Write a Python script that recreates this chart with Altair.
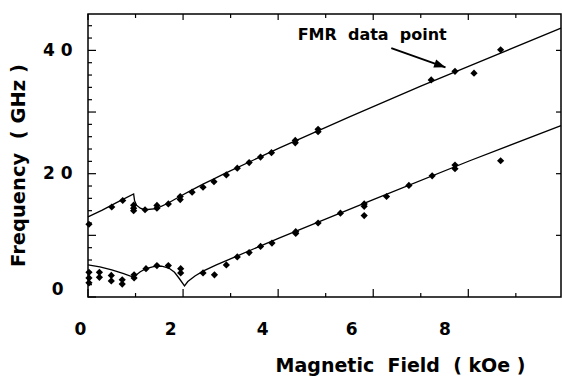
import altair as alt
import pandas as pd

# ---- data ----
upper_pt_H = [0.02, 0.5, 0.73, 0.96, 0.96, 0.96, 1.2, 1.45, 1.45, 1.69, 1.94, 1.94, 2.19, 2.42,
              2.65, 2.91, 3.14, 3.39, 3.63, 3.86, 4.36, 4.36, 4.84, 4.84, 7.22, 7.72, 8.12, 8.68]
upper_pt_F = [11.8, 14.6, 15.65, 14.9, 14.4, 14.0, 14.15, 14.85, 14.4, 15.1, 16.3, 15.8, 17.0, 17.8,
              18.7, 19.8, 20.9, 21.8, 22.7, 23.4, 25.0, 25.4, 26.8, 27.2, 35.2, 36.6, 36.3, 40.1]

lower_pt_H = [0.02, 0.02, 0.02, 0.24, 0.24, 0.49, 0.49, 0.72, 0.72, 0.97, 0.97, 1.22, 1.45, 1.69,
              1.95, 1.95, 2.42, 2.66, 2.91, 3.14, 3.39, 3.63, 3.87, 4.37, 4.37, 4.84, 5.31,
              5.81, 5.81, 5.81, 6.28, 6.75, 7.24, 7.72, 7.72, 8.68]
lower_pt_F = [4.0, 3.1, 2.3, 4.0, 3.2, 3.5, 2.6, 2.8, 2.1, 3.6, 3.1, 4.6, 5.1, 5.1,
              4.6, 3.9, 3.9, 3.6, 5.2, 6.5, 7.2, 8.2, 8.75, 10.6, 10.3, 12.0, 13.6,
              15.1, 14.7, 13.2, 16.3, 18.1, 19.65, 21.4, 20.8, 22.1]

upper_line_H = [0, 0.3, 0.6, 0.96, 0.98, 1.02, 1.1, 1.2, 1.44, 1.68, 1.93, 2.17, 2.42, 2.66,
                2.87, 4.03, 5.5, 7.0, 8.03, 9.95]
upper_line_F = [13.0, 14.1, 15.3, 16.7, 15.6, 14.9, 14.4, 14.15, 14.35, 15.2, 16.3, 17.3, 18.3, 19.2,
                20.0, 24.2, 29.2, 34.2, 37.5, 43.6]

lower_line_H = [0, 0.25, 0.5, 0.75, 0.96, 1.0, 1.1, 1.22, 1.4, 1.55, 1.7, 1.82, 1.92, 2.03,
                2.1, 2.25, 2.42, 2.7, 3.12, 4.03, 6.0, 8.03, 9.95]
lower_line_F = [5.2, 4.9, 4.4, 3.8, 3.2, 3.5, 4.1, 4.6, 4.95, 5.0, 4.7, 4.0, 3.0, 1.8,
                2.5, 3.4, 4.2, 5.2, 6.6, 9.6, 15.8, 22.1, 27.8]

x_major = [0, 2, 4, 6, 8]
x_minor = [1, 3, 5, 7, 9]
y_major = [0, 10, 20, 30, 40]
y_minor = [2, 4, 6, 8, 12, 14, 16, 18, 22, 24, 26, 28, 32, 34, 36, 38, 42, 44]
y_right = [10, 20, 30, 40]
y_labels = [0, 20, 40]

annot_text = ["FMR\u00a0 data\u00a0 point"]
annot_H = [4.41]
annot_F = [42.5]
arrow_H = [6.38]
arrow_F = [40.36]
arrow_tip_H = [7.52]
arrow_tip_F = [37.25]

# ---- chart ----
W, H = 473, 283
FONT = "DejaVu Sans"
xs = alt.Scale(domain=[0, 9.95], nice=False, zero=False)
ys = alt.Scale(domain=[0, 45.9], nice=False, zero=False)

pts = pd.DataFrame({
    "H": upper_pt_H + lower_pt_H,
    "F": upper_pt_F + lower_pt_F,
})
lines = pd.DataFrame({
    "H": upper_line_H + lower_line_H,
    "F": upper_line_F + lower_line_F,
    "branch": ["upper"] * len(upper_line_H) + ["lower"] * len(lower_line_H),
    "i": list(range(len(upper_line_H))) + list(range(len(lower_line_H))),
})

x_axis = alt.Axis(
    values=x_major, grid=False, domain=False, ticks=False, tickSize=0,
    labelFont=FONT, labelFontWeight="bold", labelFontSize=17, labelColor="black",
    labelPadding=24, labelFlush=False,
    labelOffset={"condition": [
        {"test": "datum.value == 0", "value": -8},
        {"test": "datum.value == 2", "value": -13},
        {"test": "datum.value == 4", "value": -16},
        {"test": "datum.value == 6", "value": -22},
    ], "value": -24},
    title="Magnetic\u00a0 Field\u00a0 (\u00a0kOe\u00a0)",
    titleFont=FONT, titleFontWeight="bold", titleFontSize=19, titleColor="black",
    titleX=312, titleY=68, titleAlign="center", titleBaseline="middle",
)
y_axis = alt.Axis(
    values=y_labels, grid=False, domain=False, ticks=False, tickSize=0,
    labelFont=FONT, labelFontWeight="bold", labelFontSize=17, labelColor="black",
    labelFlush=False,
    labelExpr="replace(datum.label, regexp('(\\\\d)(\\\\d)'), '$1 $2')",
    labelPadding={"condition": {"test": "datum.value == 0", "value": 25}, "value": 16},
    labelOffset={"condition": {"test": "datum.value == 0", "value": -8}, "value": 0},
    title="Frequency\u00a0 (\u00a0GHz\u00a0)",
    titleFont=FONT, titleFontWeight="bold", titleFontSize=19.5, titleColor="black",
    titleX=-70, titleY=151, titleAngle=270, titleAlign="center", titleBaseline="middle",
)


def X(field):
    return alt.X(field, scale=xs, axis=x_axis)


def Y(field):
    return alt.Y(field, scale=ys, axis=y_axis)


points = alt.Chart(pts).mark_point(
    shape="diamond", filled=True, color="black", size=52, opacity=1
).encode(x=X("H:Q"), y=Y("F:Q"))

fit = alt.Chart(lines).mark_line(color="black", strokeWidth=1.3).encode(
    x=X("H:Q"), y=Y("F:Q"), detail="branch:N", order="i:Q",
)


def tick_layer(vals, channel, a, b):
    df = pd.DataFrame({"v": vals})
    if channel == "x":
        enc = dict(x=X("v:Q"), y=alt.value(a), y2=alt.value(b))
    else:
        enc = dict(y=Y("v:Q"), x=alt.value(a), x2=alt.value(b))
    return alt.Chart(df).mark_rule(color="black", strokeWidth=1.2).encode(**enc)


ticks = [
    tick_layer(x_major, "x", H, H - 8),
    tick_layer(x_minor, "x", H, H - 4),
    tick_layer(x_major, "x", 0, 6),
    tick_layer(x_minor, "x", 0, 4),
    tick_layer(y_major, "y", 0, 8),
    tick_layer(y_minor, "y", 0, 4),
    tick_layer(y_right, "y", W, W - 5),
]

annot = pd.DataFrame({"H": annot_H, "F": annot_F, "t": annot_text})
label = alt.Chart(annot).mark_text(
    align="left", baseline="middle", font=FONT, fontWeight="bold", fontSize=16, color="black"
).encode(x=X("H:Q"), y=Y("F:Q"), text="t:N")

arr = pd.DataFrame({"H": arrow_H, "F": arrow_F, "H2": arrow_tip_H, "F2": arrow_tip_F})
shaft = alt.Chart(arr).mark_rule(color="black", strokeWidth=2).encode(
    x=X("H:Q"), y=Y("F:Q"), x2="H2:Q", y2="F2:Q",
)
head = alt.Chart(arr).mark_point(
    shape="M0,0L-2.4,-0.9L-2.4,0.9Z", filled=True, color="black", size=90, opacity=1, angle=19.6
).encode(x=X("H2:Q"), y=Y("F2:Q"))

chart = alt.layer(points, fit, *ticks, label, shaft, head).properties(
    width=W, height=H,
    padding={"left": 88, "top": 14, "right": 1, "bottom": 84},
    autosize=alt.AutoSizeParams(type="none"),
    background="white",
).configure_view(stroke="black", strokeWidth=1.5)

chart.save("out.html", embed_options={"renderer": "svg", "actions": False})
